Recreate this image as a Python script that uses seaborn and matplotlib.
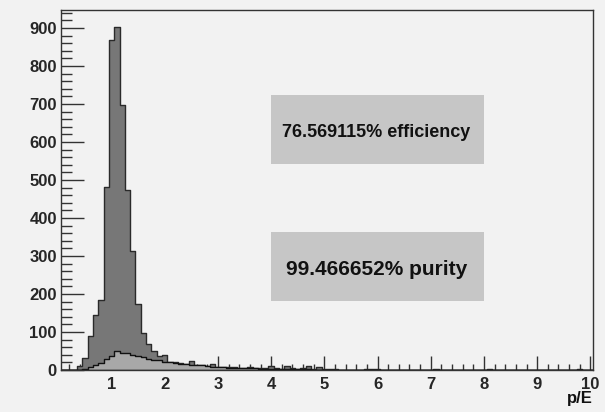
import numpy as np
import pandas as pd
import matplotlib
matplotlib.use("Agg")
import matplotlib.pyplot as plt
from matplotlib.patches import Rectangle
from matplotlib.ticker import MultipleLocator
import seaborn as sns

# p/E histogram: 100 bins of width 0.1 from 0.05 to 10.05
bin_centers = [round(0.1 * k, 1) for k in range(1, 101)]

# all tracks
all_counts = [
    0, 0, 0, 10, 31, 89, 145, 184, 481, 868,          # 0.1 - 1.0
    902, 697, 474, 314, 173, 98, 68, 50, 37, 40,      # 1.1 - 2.0
    21, 20, 18, 17, 24, 14, 13, 11, 16, 9,            # 2.1 - 3.0
    8, 7, 7, 6, 6, 9, 5, 4, 4, 11,                    # 3.1 - 4.0
    4, 3, 11, 4, 3, 5, 11, 3, 9, 2,                   # 4.1 - 5.0
    2, 2, 1, 1, 1, 0, 1, 3, 3, 2,                     # 5.1 - 6.0
    1, 0, 1, 0, 0, 1, 0, 0, 0, 0,                     # 6.1 - 7.0
    2, 0, 0, 0, 0, 1, 0, 0, 0, 0,                     # 7.1 - 8.0
    2, 0, 0, 0, 0, 0, 1, 0, 0, 0,                     # 8.1 - 9.0
    0, 0, 0, 0, 0, 0, 0, 2, 0, 0,                     # 9.1 - 10.0
]

# selected tracks
selected_counts = [
    0, 0, 0, 0, 2, 7, 13, 19, 28, 38,                 # 0.1 - 1.0
    51, 46, 44, 39, 36, 33, 30, 27, 25, 22,           # 1.1 - 2.0
    20, 18, 17, 15, 14, 13, 12, 10, 9, 8,             # 2.1 - 3.0
    7, 6, 6, 5, 5, 4, 4, 3, 3, 3,                     # 3.1 - 4.0
    3, 2, 2, 2, 2, 2, 2, 1, 1, 1,                     # 4.1 - 5.0
    1, 1, 1, 1, 0, 0, 0, 1, 1, 1,                     # 5.1 - 6.0
    0, 0, 0, 0, 0, 0, 0, 0, 0, 0,                     # 6.1 - 7.0
    1, 0, 0, 0, 0, 0, 0, 0, 0, 0,                     # 7.1 - 8.0
    1, 0, 0, 0, 0, 0, 0, 0, 0, 0,                     # 8.1 - 9.0
    0, 0, 0, 0, 0, 0, 0, 1, 0, 0,                     # 9.1 - 10.0
]

efficiency_text = "76.569115% efficiency"
purity_text = "99.466652% purity"
x_label = "p/E"

df_all = pd.DataFrame({"pe": bin_centers, "n": all_counts})
df_sel = pd.DataFrame({"pe": bin_centers, "n": selected_counts})

bg = "#f2f2f2"
sns.set_style("ticks")
plt.rcParams["font.family"] = ["Liberation Sans", "DejaVu Sans"]
plt.rcParams["font.weight"] = "bold"

fig = plt.figure(figsize=(6.05, 4.12), dpi=100, facecolor=bg)
ax = fig.add_axes([61 / 605, 1 - 370 / 412, 532 / 605, 360 / 412], facecolor=bg)

hist_kws = dict(x="pe", weights="n", binwidth=0.1, binrange=(0.05, 10.05),
                element="step", fill=True, alpha=1, linewidth=1.0, ax=ax)
sns.histplot(data=df_all, color="#777777", edgecolor="#2a2a2a", **hist_kws)
sns.histplot(data=df_sel, color="#a8a8a8", edgecolor="#111111", **hist_kws)

ax.set_xlim(0.05, 10.05)
ax.set_ylim(0, 1.05 * max(all_counts))
ax.set_xlabel("")
ax.set_ylabel("")

ax.xaxis.set_major_locator(MultipleLocator(1))
ax.xaxis.set_minor_locator(MultipleLocator(0.2))
ax.yaxis.set_major_locator(MultipleLocator(100))
ax.yaxis.set_minor_locator(MultipleLocator(20))
ax.tick_params(axis="both", which="both", direction="in", color="#333333",
               width=1, labelsize=12, top=False, right=False)
ax.tick_params(axis="x", which="major", length=10, pad=5)
ax.tick_params(axis="x", which="minor", length=4.5)
ax.tick_params(axis="y", which="major", length=16.5, pad=3)
ax.tick_params(axis="y", which="minor", length=8)
ax.set_xticks([1, 2, 3, 4, 5, 6, 7, 8, 9, 10])
ax.set_xticklabels(["1", "2", "3", "4", "5", "6", "7", "8", "9", "10"])
for lab in ax.get_xticklabels() + ax.get_yticklabels():
    lab.set_fontweight("bold")

for side in ["left", "bottom", "top", "right"]:
    ax.spines[side].set_visible(True)
    ax.spines[side].set_color("#333333")
    ax.spines[side].set_linewidth(1)

# summary boxes
fig.patches.append(Rectangle((271 / 605, 1 - 164 / 412), 213 / 605, 69 / 412,
                             transform=fig.transFigure, facecolor="#c6c6c6",
                             edgecolor="none", zorder=5))
fig.patches.append(Rectangle((271 / 605, 1 - 300.7 / 412), 213 / 605, 68.4 / 412,
                             transform=fig.transFigure, facecolor="#c6c6c6",
                             edgecolor="none", zorder=5))
fig.text(376.5 / 605, 1 - 136.7 / 412, efficiency_text, ha="center", va="baseline",
         fontsize=13, fontweight="bold", color="#111111", zorder=6)
fig.text(376.5 / 605, 1 - 275 / 412, purity_text, ha="center", va="baseline",
         fontsize=15, fontweight="bold", color="#111111", zorder=6)

fig.text(592.5 / 605, 1 - 403 / 412, x_label, ha="right", va="baseline",
         fontsize=12, fontweight="bold", color="#111111")

fig.savefig("out.png", dpi=100, facecolor=bg)
